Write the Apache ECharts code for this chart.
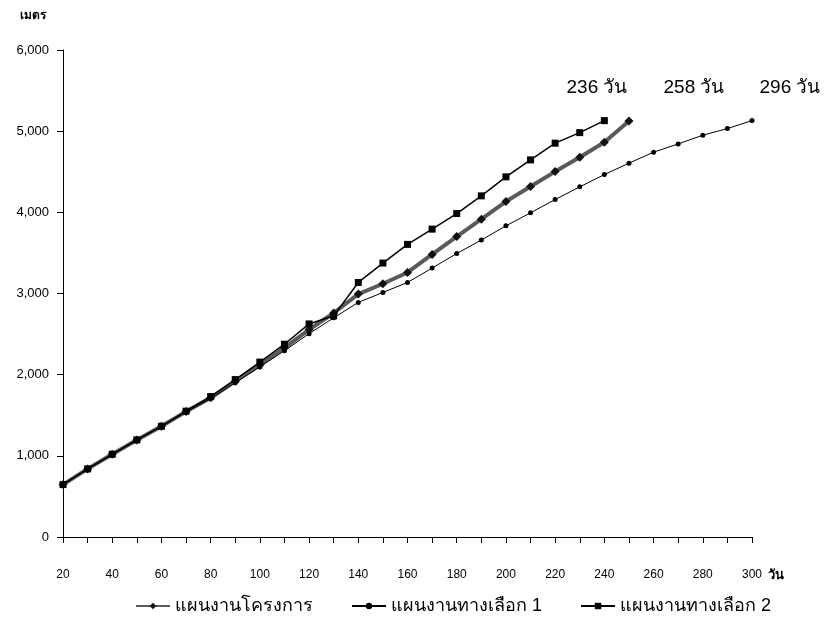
<!DOCTYPE html>
<html>
<head>
<meta charset="utf-8">
<script src="https://cdn.jsdelivr.net/npm/echarts@6/dist/echarts.min.js"></script>
<style>
  html, body { margin: 0; padding: 0; background: #fff; }
  #chart { width: 827px; height: 633px; }
</style>
</head>
<body>
<div id="chart"></div>
<script>
// Cumulative distance (metres) by working day for three schedules
const days = [20, 30, 40, 50, 60, 70, 80, 90, 100, 110, 120, 130, 140, 150, 160,
              170, 180, 190, 200, 210, 220, 230, 240, 250, 260, 270, 280, 290, 300];

const projectPlan = [646, 839, 1019, 1196, 1364, 1545, 1715, 1920, 2120, 2330, 2555, 2760,
                     2993, 3120, 3259, 3482, 3702, 3916, 4133, 4318, 4502, 4679, 4864, 5126];

const alternative1 = [646, 839, 1019, 1196, 1364, 1540, 1705, 1900, 2095, 2295, 2505, 2700,
                      2890, 3013, 3136, 3313, 3493, 3658, 3834, 3994, 4158, 4314, 4465, 4606,
                      4741, 4843, 4950, 5032, 5130];

const alternative2 = [646, 839, 1019, 1196, 1364, 1550, 1730, 1940, 2155, 2375, 2625, 2725,
                      3136, 3375, 3605, 3793, 3985, 4203, 4437, 4646, 4852, 4982, 5130];

const seriesNames = ['แผนงานโครงการ', 'แผนงานทางเลือก 1', 'แผนงานทางเลือก 2'];
const durationLabels = ['236 วัน', '258 วัน', '296 วัน'];
const yTicks = [0, 1000, 2000, 3000, 4000, 5000, 6000];

const FONT = 'Liberation Sans, Arial, sans-serif';

function pairs(values) {
  return values.map((v, i) => [days[i], v]);
}

const chart = echarts.init(document.getElementById('chart'));

chart.setOption({
  animation: false,
  backgroundColor: '#ffffff',
  textStyle: { fontFamily: FONT, color: '#000' },
  grid: { left: 63, right: 75, top: 50, bottom: 96, containLabel: false },
  legend: {
    bottom: 13,
    left: 130,
    itemWidth: 34,
    itemHeight: 8,
    itemGap: 38,
    textStyle: { fontFamily: FONT, fontSize: 18, color: '#000' },
    data: seriesNames
  },
  xAxis: {
    type: 'value',
    min: 20,
    max: 300,
    interval: 10,
    name: 'วัน',
    nameLocation: 'end',
    nameGap: 6,
    nameTextStyle: { fontFamily: FONT, fontSize: 13, color: '#000', fontWeight: 'bold',
                     verticalAlign: 'top', align: 'left', padding: [32, 0, 0, 0] },
    axisLine: { show: true, onZero: false, lineStyle: { color: '#000', width: 1 } },
    axisTick: { show: true, inside: false, length: 6, lineStyle: { color: '#000' } },
    axisLabel: {
      margin: 32,
      fontSize: 12,
      color: '#000',
      formatter: v => (v % 20 === 0 ? String(v) : '')
    },
    splitLine: { show: false }
  },
  yAxis: {
    type: 'value',
    min: 0,
    max: 6000,
    interval: 1000,
    name: 'เมตร',
    nameLocation: 'end',
    nameGap: 28,
    nameTextStyle: { fontFamily: FONT, fontSize: 12, fontWeight: 'bold', color: '#000',
                     align: 'right', padding: [0, 17, 0, 0] },
    axisLine: { show: true, lineStyle: { color: '#000', width: 1 } },
    axisTick: { show: true, inside: false, length: 6, lineStyle: { color: '#000' } },
    axisLabel: {
      margin: 14,
      fontSize: 13,
      color: '#000',
      formatter: v => (yTicks.includes(v) ? v.toLocaleString('en-US') : '')
    },
    splitLine: { show: false }
  },
  series: [
    {
      name: seriesNames[0],
      type: 'line',
      data: pairs(projectPlan),
      symbol: 'diamond',
      symbolSize: 9,
      itemStyle: { color: '#111' },
      lineStyle: { color: '#5a5a5a', width: 4 },
      z: 2
    },
    {
      name: seriesNames[1],
      type: 'line',
      data: pairs(alternative1),
      symbol: 'circle',
      symbolSize: 5,
      itemStyle: { color: '#000' },
      lineStyle: { color: '#000', width: 1 },
      z: 3
    },
    {
      name: seriesNames[2],
      type: 'line',
      data: pairs(alternative2),
      symbol: 'rect',
      symbolSize: 7,
      itemStyle: { color: '#000' },
      lineStyle: { color: '#000', width: 1.5 },
      z: 4
    }
  ],
  graphic: [
    { type: 'text', x: 597, y: 88, style: { text: durationLabels[0], font: '19px ' + FONT, fill: '#000', align: 'center', verticalAlign: 'middle' } },
    { type: 'text', x: 694, y: 88, style: { text: durationLabels[1], font: '19px ' + FONT, fill: '#000', align: 'center', verticalAlign: 'middle' } },
    { type: 'text', x: 790, y: 88, style: { text: durationLabels[2], font: '19px ' + FONT, fill: '#000', align: 'center', verticalAlign: 'middle' } }
  ]
});
</script>
</body>
</html>
